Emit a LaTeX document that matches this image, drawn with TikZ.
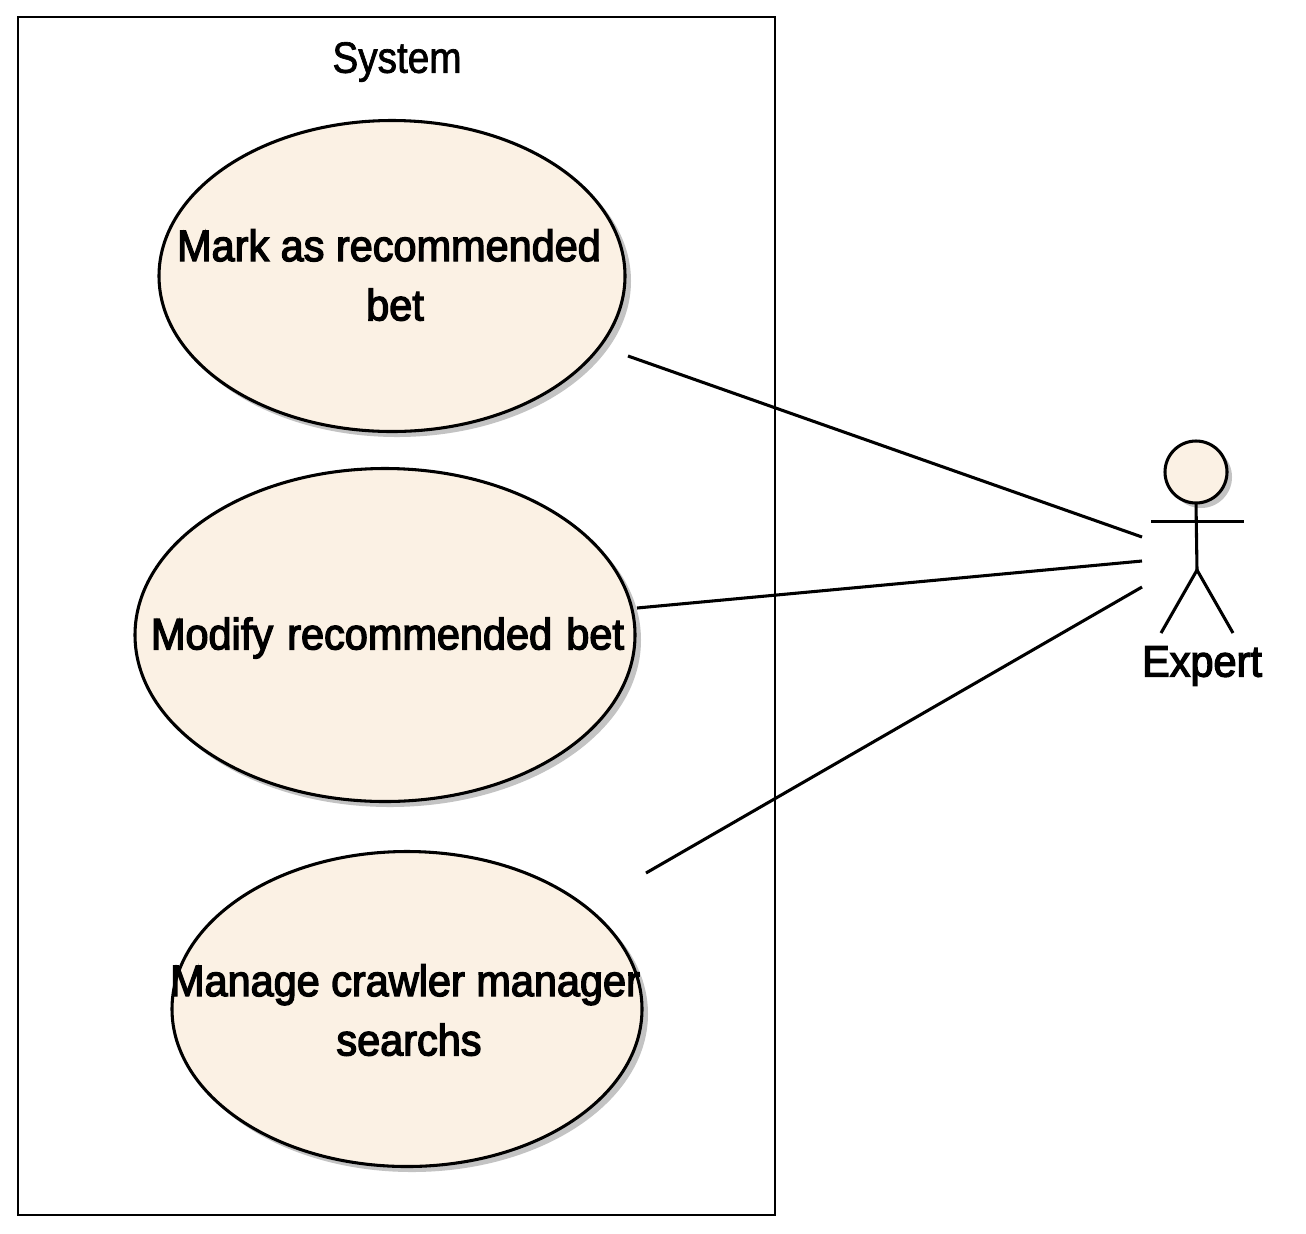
\documentclass[tikz,border=0pt]{standalone}
\usepackage{fontspec}
\setmainfont[FakeStretch=0.942,FakeBold=3]{Liberation Sans}
\newfontfamily\sysfont[FakeStretch=0.88,FakeBold=1.5]{Liberation Sans}
\usetikzlibrary{shapes.geometric}
\definecolor{ucfill}{RGB}{251,241,228}
\definecolor{ucshadow}{RGB}{195,195,195}
\tikzset{x=0.75pt,y=-0.75pt,
 dims/.style 2 args={minimum width=#1*0.75pt,minimum height=#2*0.75pt},
 usecase/.style={ellipse,draw=black,fill=ucfill,line width=2.3pt,inner sep=0,outer sep=0},
 shadowshape/.style={ellipse,fill=ucshadow,draw=none,inner sep=0},
 uclabel/.style={font=\fontsize{33}{44.5}\selectfont,align=center,inner sep=0,text=black},
 syslabel/.style={font=\sysfont\fontsize{33}{44.5}\selectfont,align=center,inner sep=0,text=black},
 assoc/.style={line width=2.3pt,draw=black},
 frame/.style={line width=2.1pt,draw=black}}
\begin{document}
\begin{tikzpicture}
\useasboundingbox (0,0) rectangle (1306,1233);
\fill[white] (0,0) rectangle (1306,1233);
\draw[frame] (18,17) rectangle (775,1215);
\node[syslabel] (sys) at (397,62) {System};
% shadows
\node[shadowshape,dims={468}{312}] (s1) at (397,281) {};
\node[shadowshape,dims={502}{334}] (s2) at (390,640) {};
\node[shadowshape,dims={472}{316}] (s3) at (412,1014) {};
\node[shadowshape,dims={62}{62}] (s4) at (1201,477) {};
% use cases
\node[usecase,dims={466}{311}] (u1) at (392,276) {};
\node[usecase,dims={500}{333}] (u2) at (385,635) {};
\node[usecase,dims={470}{315}] (u3) at (407,1009) {};
\node[uclabel] (t1) at (389,275) {Mark as recommended\\\hspace*{9pt}bet};
\node[uclabel] (t2) at (387.5,638) {Modify\hspace{2pt} recommended\hspace{2pt} bet};
\node[uclabel] (t3) at (405,1010) {Manage crawler manager\\\hspace*{6pt}searchs};
% actor
\node[ellipse,draw=black,fill=ucfill,line width=2.3pt,dims={62}{62},inner sep=0,outer sep=0] (head) at (1196,472) {};
\coordinate (hip) at (1197,570);
\coordinate (armL) at (1151,521.5);
\coordinate (armR) at (1244,521.5);
\coordinate (footL) at (1161,633);
\coordinate (footR) at (1233,633);
\draw[assoc] (head.south) -- (hip);
\draw[assoc] (armL) -- (armR);
\draw[assoc] (footL) -- (hip) -- (footR);
\node[uclabel] (expert) at (1202,666) {Expert};
% associations
\coordinate (e1) at (1142,537);
\coordinate (e2) at (1142,561);
\coordinate (e3) at (1142,587);
\coordinate (a1) at (628,356);
\coordinate (a2) at (637,608);
\coordinate (a3) at (646,873);
\draw[assoc] (a1) -- (e1);
\draw[assoc] (a2) -- (e2);
\draw[assoc] (a3) -- (e3);
\end{tikzpicture}
\end{document}
